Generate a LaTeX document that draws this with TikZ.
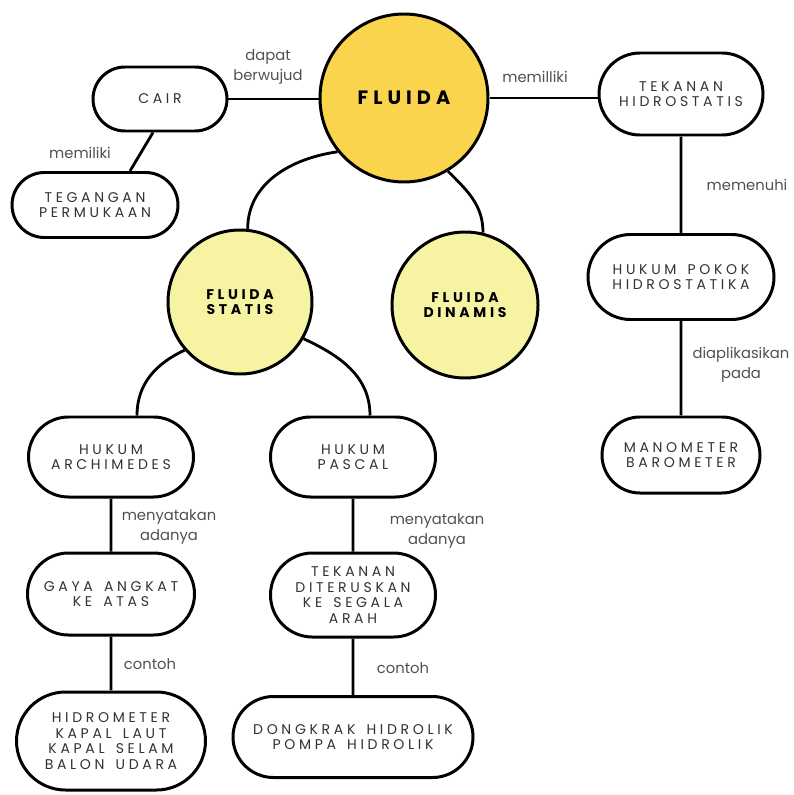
\documentclass[tikz,border=0pt]{standalone}
\usepackage{fontspec}
\setmainfont{Poppins}
\newfontfamily\spacedfont[LetterSpace=26,WordSpace=1.5]{Poppins}
\usetikzlibrary{shapes.misc}
\definecolor{goldcol}{RGB}{249,212,76}
\definecolor{palecol}{RGB}{246,243,162}
\definecolor{txtcol}{RGB}{50,50,50}
\definecolor{lblcol}{RGB}{80,80,80}
\tikzset{every picture/.style={x=0.2mm,y=0.2mm}}
\tikzset{pill/.style={rounded rectangle,draw,line width=1.7pt,fill=white,align=center,text=txtcol,inner sep=0pt,font=\spacedfont\fontsize{8}{8.8}\selectfont}}
\tikzset{bigcirc/.style={circle,draw,line width=1.7pt,fill=goldcol,align=center,inner sep=0pt,minimum size=33.6mm,font=\spacedfont\bfseries\fontsize{11}{12}\selectfont}}
\tikzset{subcirc/.style={circle,draw,line width=1.7pt,fill=palecol,align=center,inner sep=0pt,font=\spacedfont\bfseries\fontsize{8}{8.5}\selectfont}}
\tikzset{link/.style={line width=1.6pt}}
\tikzset{lbl/.style={text=lblcol,align=center,inner sep=0pt,font=\fontsize{8.4}{11.5}\selectfont}}

\begin{document}
\begin{tikzpicture}
\useasboundingbox (0,0) rectangle (793,-795);

\node [bigcirc] (fluida) at (404,-98) {FLUIDA};
\node [subcirc,minimum size=28.8mm] (statis) at (240,-302) {FLUIDA\\STATIS};
\node [subcirc,minimum size=29.2mm] (dinamis) at (465,-305) {FLUIDA\\DINAMIS};

\node [pill,minimum width=26.8mm,minimum height=12.8mm] (cair) at (160,-99) {CAIR};
\node [pill,minimum width=33.2mm,minimum height=13mm] (tegangan) at (95,-205) {TEGANGAN\\PERMUKAAN};

\node [pill,minimum width=32.8mm,minimum height=16.4mm] (tekanan) at (681,-94) {TEKANAN\\HIDROSTATIS};
\node [pill,minimum width=37.2mm,minimum height=17mm] (pokok) at (681,-277) {HUKUM POKOK\\HIDROSTATIKA};
\node [pill,minimum width=31.6mm,minimum height=15.2mm] (manometer) at (681,-455) {MANOMETER\\BAROMETER};

\node [pill,minimum width=33mm,minimum height=16mm] (archimedes) at (111,-457) {HUKUM\\ARCHIMEDES};
\node [pill,minimum width=33.4mm,minimum height=16.4mm] (gaya) at (111,-594) {GAYA ANGKAT\\KE ATAS};
\node [pill,minimum width=37.8mm,minimum height=19.6mm] (hidrometer) at (111,-741) {HIDROMETER\\KAPAL LAUT\\KAPAL SELAM\\BALON UDARA};

\node [pill,minimum width=33mm,minimum height=16mm] (pascal) at (353,-457) {HUKUM\\PASCAL};
\node [pill,minimum width=33mm,minimum height=16.8mm] (diteruskan) at (353,-595) {TEKANAN\\DITERUSKAN\\KE SEGALA\\ARAH};
\node [pill,minimum width=48mm,minimum height=16.2mm] (dongkrak) at (353,-737) {DONGKRAK HIDROLIK\\POMPA HIDROLIK};

% connectors
\draw [link] (cair.east) -- (cair.east -| fluida.west);
\draw [link] ([xshift=-1.4mm]cair.south) -- ([xshift=7mm]tegangan.north);
\draw [link] (fluida.east) -- (fluida.east -| tekanan.west);
\draw [link] (tekanan) -- (pokok);
\draw [link] (pokok) -- (manometer);

\draw [link] (fluida.219) to[out=188,in=90] (statis.84);
\draw [link] (fluida.-59) to[out=-45,in=90] (dinamis.76);
\draw [link] (statis.221) to[out=205,in=90] ([xshift=5.2mm]archimedes.north);
\draw [link] (statis.-30) to[out=-25,in=90] ([xshift=3.4mm]pascal.north);

\draw [link] (archimedes) -- (gaya);
\draw [link] (gaya) -- (hidrometer);
\draw [link] (pascal) -- (diteruskan);
\draw [link] (diteruskan) -- (dongkrak);

% labels
\node [lbl] (berwujud) at (268,-67) {dapat\\berwujud};
\node [lbl] (memiliki) at (80,-153) {memiliki};
\node [lbl] (memilliki) at (535,-77) {memilliki};
\node [lbl] (memenuhi) at (747,-185) {memenuhi};
\node [lbl] (aplikasi) at (741,-365) {diaplikasikan\\pada};
\node [lbl] (nyata1) at (169,-527) {menyatakan\\adanya};
\node [lbl] (nyata2) at (437,-531) {menyatakan\\adanya};
\node [lbl] (contoh1) at (150,-664) {contoh};
\node [lbl] (contoh2) at (403,-668) {contoh};
\end{tikzpicture}
\end{document}
